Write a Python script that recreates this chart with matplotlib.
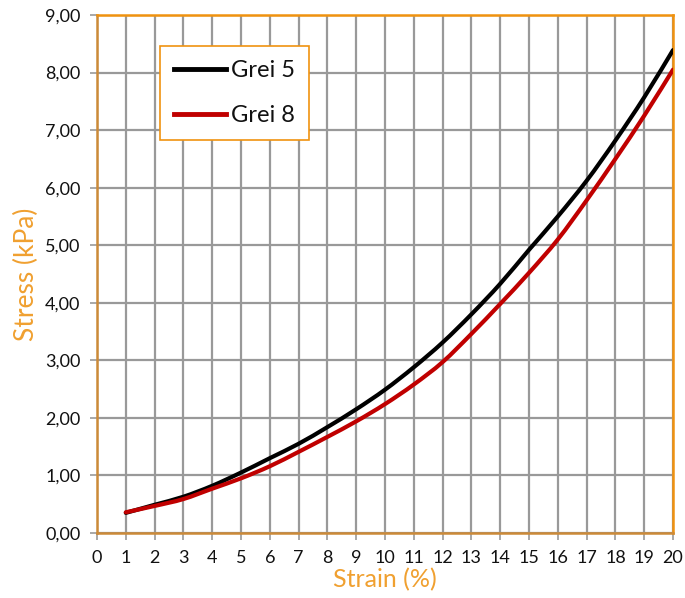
import matplotlib
matplotlib.use("Agg")
import matplotlib.pyplot as plt
from matplotlib.path import Path
from matplotlib.patches import PathPatch
from matplotlib.lines import Line2D
from matplotlib.ticker import FuncFormatter

plt.rcParams['font.family'] = ['Lato', 'DejaVu Sans']

# data
strain = list(range(1, 21))
grei5 = [0.35, 0.49, 0.63, 0.82, 1.05, 1.30, 1.55, 1.84, 2.15, 2.49,
         2.88, 3.31, 3.80, 4.33, 4.92, 5.50, 6.12, 6.82, 7.57, 8.39]
grei8 = [0.36, 0.47, 0.59, 0.77, 0.95, 1.16, 1.41, 1.67, 1.94, 2.24,
         2.58, 2.97, 3.46, 3.98, 4.52, 5.10, 5.78, 6.50, 7.25, 8.05]
xticks = list(range(0, 21))
yticks = list(range(0, 10))

orange = '#F0A030'


def smooth_path(xs, ys):
    # bezier path through the points, like a "smoothed line" in a spreadsheet
    pts = list(zip(xs, ys))
    verts = [pts[0]]
    codes = [Path.MOVETO]
    n = len(pts)
    for i in range(n - 1):
        p0 = pts[max(i - 1, 0)]
        p1 = pts[i]
        p2 = pts[i + 1]
        p3 = pts[min(i + 2, n - 1)]
        c1 = (p1[0] + (p2[0] - p0[0]) / 6, p1[1] + (p2[1] - p0[1]) / 6)
        c2 = (p2[0] - (p3[0] - p1[0]) / 6, p2[1] - (p3[1] - p1[1]) / 6)
        verts += [c1, c2, p2]
        codes += [Path.CURVE4] * 3
    return Path(verts, codes)


fig = plt.figure(figsize=(6.85, 5.98), dpi=100)
ax = fig.add_axes([97 / 685, 1 - 533 / 598, 576 / 685, 518 / 598])

for ys, col in [(grei5, 'black'), (grei8, '#C00000')]:
    ax.add_patch(PathPatch(smooth_path(strain, ys), facecolor='none',
                           edgecolor=col, lw=3.0, capstyle='round', zorder=3))

ax.set_xlim(0, 20)
ax.set_ylim(0, 9)
ax.set_xticks(xticks)
ax.set_yticks(yticks)
ax.yaxis.set_major_formatter(FuncFormatter(lambda v, p: f"{v:.2f}".replace('.', ',')))
ax.grid(True, color='#999999', lw=1.6)
ax.set_axisbelow(True)
ax.tick_params(axis='both', color='#999999', length=5, width=1.2,
               labelsize=13, labelcolor='#111111')
ax.tick_params(axis='x', pad=7)
ax.tick_params(axis='y', pad=7)

for side in ['left', 'bottom']:
    ax.spines[side].set_color('#CC8A38')
    ax.spines[side].set_linewidth(1.8)
for side in ['top', 'right']:
    ax.spines[side].set_color('#F0920F')
    ax.spines[side].set_linewidth(1.8)

ax.set_xlabel('Strain (%)', color=orange, fontsize=18, labelpad=2)
ax.set_ylabel('Stress (kPa)', color=orange, fontsize=19, labelpad=4)

handles = [Line2D([], [], color='black', lw=3.5),
           Line2D([], [], color='#C00000', lw=3.5)]
leg = ax.legend(handles, ['Grei 5', 'Grei 8'], loc='upper left',
                bbox_to_anchor=(0.109, 0.94), borderaxespad=0,
                prop={'size': 17}, fancybox=False, framealpha=1,
                edgecolor='#F0920F', handlelength=2.2, handletextpad=0.2,
                labelspacing=1.0, borderpad=0.6)
leg.get_frame().set_linewidth(1.2)
for t in leg.get_texts():
    t.set_color('#111111')

fig.savefig('out.png', dpi=100)
